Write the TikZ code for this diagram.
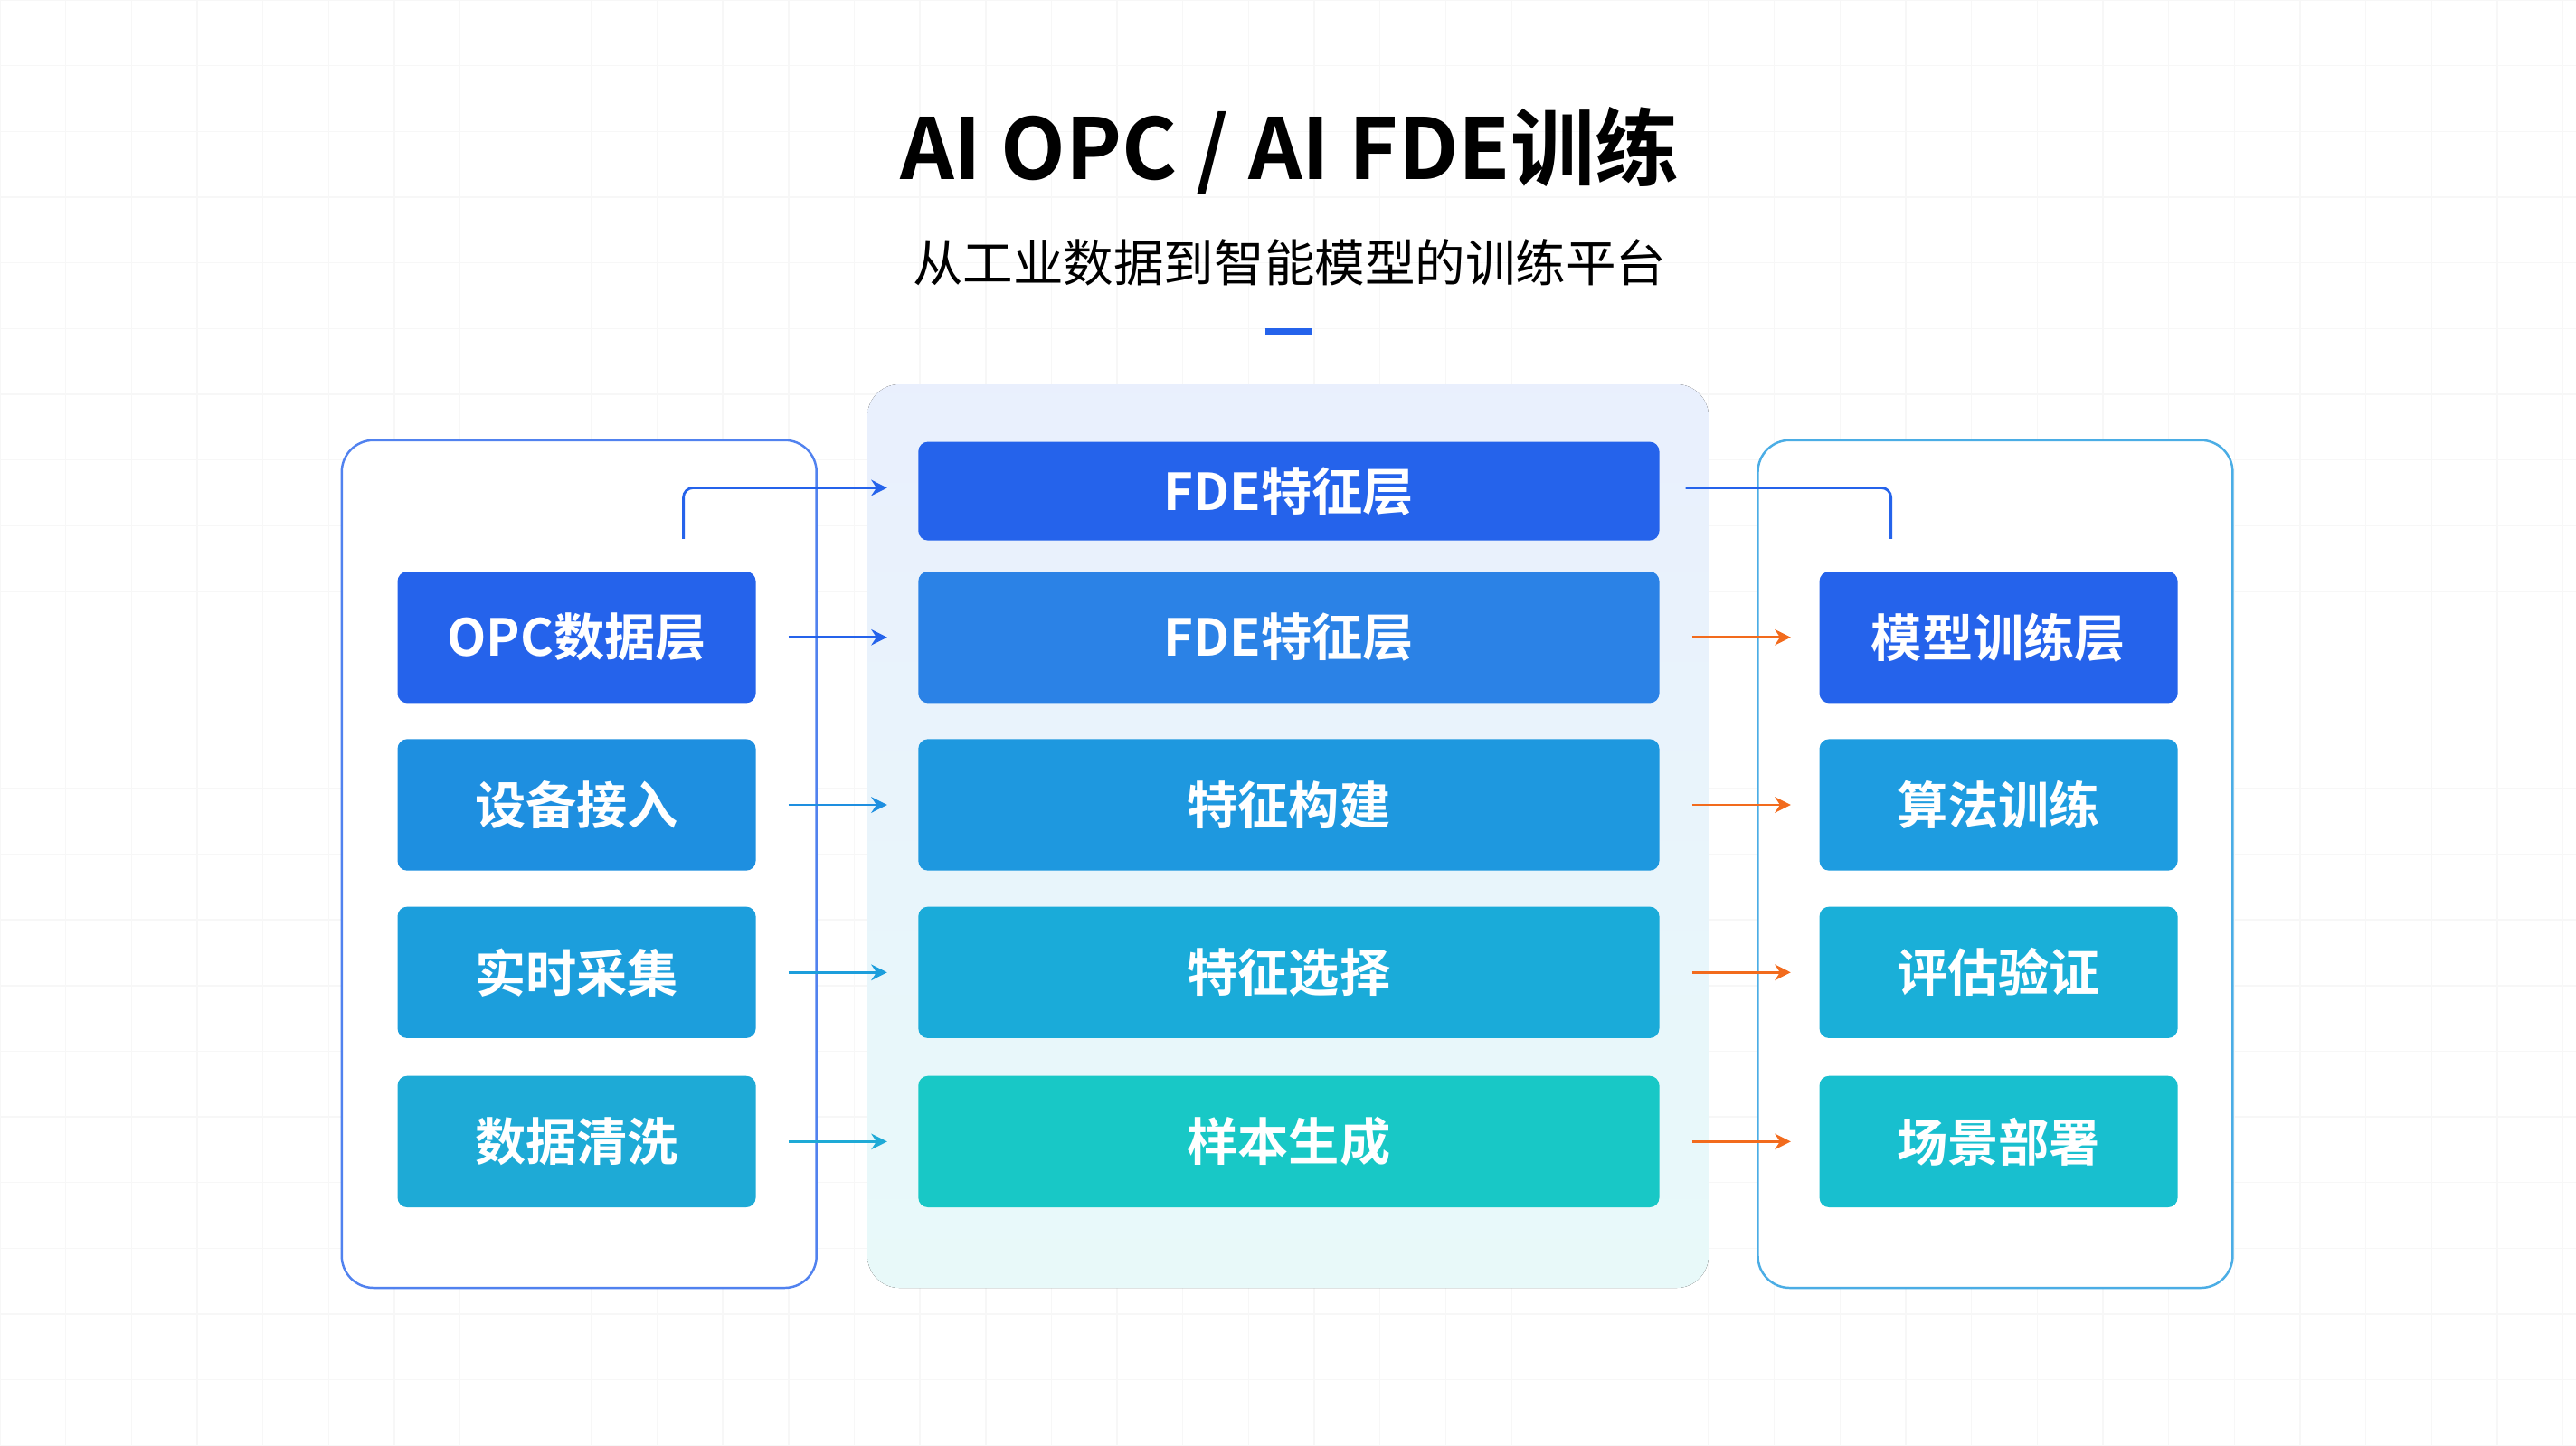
\documentclass[tikz,border=0pt]{standalone}
\usepackage{fontspec}
\setmainfont{Noto Sans CJK SC}
\newfontfamily\cjkb{Noto Sans CJK SC Bold}
\usetikzlibrary{arrows.meta}
\definecolor{bA}{HTML}{2563EB}
\definecolor{bB}{HTML}{2B82E6}
\definecolor{bC}{HTML}{1E98DF}
\definecolor{bD}{HTML}{1AABD9}
\definecolor{bE}{HTML}{18C8C6}
\definecolor{lB}{HTML}{1E8FE0}
\definecolor{lC}{HTML}{1C9EDC}
\definecolor{lD}{HTML}{1EAAD6}
\definecolor{rB}{HTML}{1E9CE0}
\definecolor{rC}{HTML}{1AAFD8}
\definecolor{rD}{HTML}{18BFCF}
\definecolor{org}{HTML}{F26B1D}
\tikzset{
 box/.style={rounded corners=3pt,text=white,font=\cjkb\fontsize{16}{16}\selectfont,inner sep=0pt},
 panel/.style={rounded corners=10pt,draw=bA!80,line width=0.7pt,fill=white},
 arr/.style={-{Stealth[length=5pt,width=5pt]},line width=0.8pt},
}
\begin{document}
\begin{tikzpicture}[x=0.018163cm,y=-0.018163cm]
\useasboundingbox (0,0) rectangle (1568,880);
\fill[white] (0,0) rectangle (1568,880);
\foreach \x in {0,40,...,1560} \draw[black!3] (\x,0) -- (\x,880);
\foreach \y in {0,40,...,880} \draw[black!3] (0,\y) -- (1568,\y);
\node[font=\cjkb\fontsize{26.5}{26.5}\selectfont] (t) at (785,92) {AI OPC / AI FDE训练};
\node[font=\fontsize{15.8}{15.8}\selectfont] (st) at (785,160) {从工业数据到智能模型的训练平台};
\draw[bA,line width=2pt] (770,202) -- (799,202);
% panels
\draw[panel] (208,268) rectangle (497,784);
\fill[rounded corners=10pt,top color=bA!10,bottom color=bE!10] (528,234) rectangle (1040,784);
\draw[panel,draw=bC!80] (1070,268) rectangle (1359,784);
% left
\foreach \n/\y/\c/\t in {l1/388/bA/OPC数据层,l2/490/lB/设备接入,l3/592/lC/实时采集,l4/695/lD/数据清洗}
  \node[box,fill=\c,minimum width=218*0.018163cm,minimum height=80*0.018163cm] (\n) at (351,\y) {\t};
% center
\node[box,fill=bA,minimum width=451*0.018163cm,minimum height=60*0.018163cm] (c0) at (784.5,299) {FDE特征层};
\foreach \n/\y/\c/\t in {c1/388/bB/FDE特征层,c2/490/bC/特征构建,c3/592/bD/特征选择,c4/695/bE/样本生成}
  \node[box,fill=\c,minimum width=451*0.018163cm,minimum height=80*0.018163cm] (\n) at (784.5,\y) {\t};
% right
\foreach \n/\y/\c/\t in {r1/388/bA/模型训练层,r2/490/rB/算法训练,r3/592/rC/评估验证,r4/695/rD/场景部署}
  \node[box,fill=\c,minimum width=218*0.018163cm,minimum height=80*0.018163cm] (\n) at (1216.5,\y) {\t};
% arrows
\foreach \i/\c in {1/bA,2/lB,3/lC,4/lD}{
  \coordinate (la\i) at (480,0|-l\i);
  \coordinate (lb\i) at (540,0|-l\i);
  \draw[arr,\c] (la\i) -- (lb\i);
  \coordinate (ra\i) at (1030,0|-r\i);
  \coordinate (rb\i) at (1090,0|-r\i);
  \draw[arr,org] (ra\i) -- (rb\i);
}
\coordinate (p1) at (416,328); \coordinate (p2) at (540,297);
\draw[arr,bA,rounded corners=3pt] (p1) |- (p2);
\coordinate (q1) at (1026,297); \coordinate (q2) at (1151,328);
\draw[bA,line width=0.8pt,rounded corners=3pt] (q1) -| (q2);
\end{tikzpicture}
\end{document}
